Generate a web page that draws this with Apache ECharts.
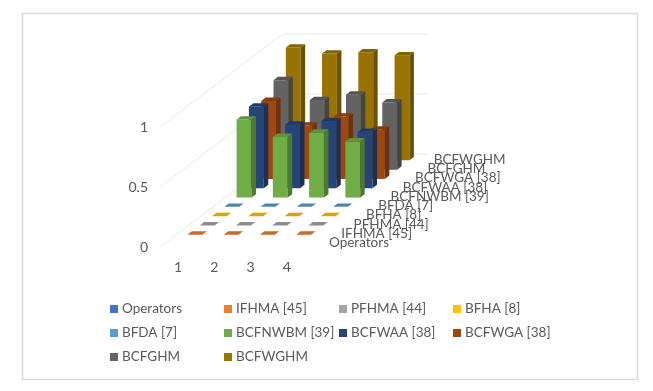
<!DOCTYPE html>
<html>
<head>
<meta charset="utf-8">
<style>
  html, body { margin: 0; padding: 0; background: #fff; }
  #chart { width: 653px; height: 391px; }
</style>
<script src="https://cdn.jsdelivr.net/npm/echarts@6/dist/echarts.min.js"></script>
</head>
<body>
<div id="chart"></div>
<script>
var categories = ['1', '2', '3', '4']
var yTicks = [0, 0.5, 1]

// order is front to back on the depth axis
var seriesNames = ['Operators', 'IFHMA [45]', 'PFHMA [44]', 'BFHA [8]', 'BFDA [7]',
  'BCFNWBM [39]', 'BCFWAA [38]', 'BCFWGA [38]', 'BCFGHM', 'BCFWGHM']
var operators = [null, null, null, null]
var ifhma = [0, 0, 0, 0]
var pfhma = [0, 0, 0, 0]
var bfha = [0, 0, 0, 0]
var bfda = [0, 0, 0, 0]
var bcfnwbm = [0.65, 0.505, 0.54, 0.467]
var bcfwaa = [0.68, 0.53, 0.56, 0.47]
var bcfwga = [0.65, 0.445, 0.52, 0.41]
var bcfghm = [0.745, 0.58, 0.625, 0.56]
var bcfwghm = [0.94, 0.89, 0.9, 0.875]
var seriesValues = [operators, ifhma, pfhma, bfha, bfda, bcfnwbm, bcfwaa, bcfwga, bcfghm, bcfwghm]
var colors = ['#4472C4', '#ED7D31', '#A5A5A5', '#FFC000', '#5B9BD5',
  '#70AD47', '#264478', '#9E480E', '#636363', '#997300']

// oblique projection, one depth slot in pixels
var depthX = 12.3
var depthY = -9.3
var barDepthX = 4.5
var barDepthY = -3.4
var textColor = '#595959'
var fontName = 'Lato'

function shade (hex, k) {
  var n = parseInt(hex.slice(1), 16)
  return 'rgb(' + Math.round((n >> 16) * k) + ',' + Math.round(((n >> 8) & 255) * k) + ',' + Math.round((n & 255) * k) + ')'
}

function poly (points, fill) {
  return { type: 'polygon', shape: { points: points }, style: { fill: fill } }
}

function barRenderer (depth, color) {
  return function (params, api) {
    var v = api.value(1)
    if (v == null || isNaN(v)) {
      return
    }
    var base = api.coord([api.value(0), 0])
    var top = api.coord([api.value(0), v])
    var w = api.size([1, 0])[0] * 0.41
    var x0 = base[0] + depthX * (depth + 0.5) - w / 2 - barDepthX / 2 + 0.5
    var x1 = x0 + w
    var off = depthY * (depth + 0.5) - barDepthY / 2
    var y0 = base[1] + off
    var y1 = top[1] + off
    var children = []
    if (y0 - y1 > 0.5) {
      children.push(poly([[x0, y1], [x1, y1], [x1, y0], [x0, y0]], color))
      children.push(poly([[x1, y1], [x1 + barDepthX, y1 + barDepthY], [x1 + barDepthX, y0 + barDepthY], [x1, y0]], shade(color, 0.7)))
    }
    children.push(poly([[x0, y1], [x1, y1], [x1 + barDepthX, y1 + barDepthY], [x0 + barDepthX, y1 + barDepthY]], shade(color, 0.85)))
    return { type: 'group', children: children }
  }
}

// side wall and back wall lines, one per tick
function wallRenderer (params, api) {
  var halfCat = api.size([1, 0])[0] / 2
  var first = api.coord([0, api.value(0)])
  var last = api.coord([categories.length - 1, api.value(0)])
  var left = [first[0] - halfCat, first[1]]
  var right = [last[0] + halfCat, last[1]]
  var dx = depthX * seriesNames.length
  var dy = depthY * seriesNames.length
  return {
    type: 'polyline',
    shape: { points: [left, [left[0] + dx, left[1] + dy], [right[0] + dx, right[1] + dy]] },
    style: { fill: 'none', stroke: '#e9e9e9', lineWidth: 1 }
  }
}

// depth axis names, they overlap in the original too
function depthLabelRenderer (params, api) {
  var i = params.dataIndex
  var p = api.coord([0, 0])
  var x = p[0] - api.size([1, 0])[0] / 2 + 169 + depthX * i
  if (i === seriesNames.length - 1) {
    x -= 6
  }
  return {
    type: 'text',
    style: {
      x: x,
      y: p[1] - 4 + depthY * i,
      text: seriesNames[i],
      fill: textColor,
      font: '13.5px ' + fontName,
      textAlign: 'left',
      textVerticalAlign: 'middle'
    }
  }
}

var series = [{
  name: 'walls',
  type: 'custom',
  coordinateSystem: 'cartesian2d',
  clip: false,
  silent: true,
  z: 0,
  renderItem: wallRenderer,
  data: yTicks.map(function (t) { return [t] }),
  encode: { y: 0 }
}]
seriesNames.forEach(function (name, depth) {
  series.push({
    name: name,
    type: 'custom',
    coordinateSystem: 'cartesian2d',
    clip: false,
    z: 20 - depth,
    itemStyle: { color: colors[depth] },
    renderItem: barRenderer(depth, colors[depth]),
    encode: { x: 0, y: 1 },
    data: seriesValues[depth].map(function (v, i) { return [i, v] })
  })
})
series.push({
  name: 'depth labels',
  type: 'custom',
  coordinateSystem: 'cartesian2d',
  clip: false,
  silent: true,
  z: 30,
  renderItem: depthLabelRenderer,
  data: seriesNames.map(function (n, i) { return [i] }),
  encode: { y: 0 }
})

function legendColumn (names, left) {
  return {
    orient: 'vertical',
    left: left,
    top: 295,
    itemWidth: 8,
    itemHeight: 8,
    itemGap: 6,
    icon: 'rect',
    selectedMode: false,
    data: names,
    textStyle: { color: textColor, fontFamily: fontName, fontSize: 13.5, padding: [0, 0, 0, -1], lineHeight: 18 }
  }
}

var chart = echarts.init(document.getElementById('chart'))
chart.setOption({
  animation: false,
  backgroundColor: '#fff',
  graphic: [{
    type: 'rect',
    shape: { x: 22.5, y: 13.5, width: 615, height: 366 },
    style: { fill: 'none', stroke: '#d9d9d9', lineWidth: 1.5 },
    z: -1
  }],
  legend: [
    legendColumn([seriesNames[0], seriesNames[4], seriesNames[8]], 105),
    legendColumn([seriesNames[1], seriesNames[5], seriesNames[9]], 219),
    legendColumn([seriesNames[2], seriesNames[6]], 334),
    legendColumn([seriesNames[3], seriesNames[7]], 448)
  ],
  grid: { left: 160, width: 145, top: 127, height: 120 },
  xAxis: {
    type: 'category',
    data: categories,
    axisLine: { show: false },
    axisTick: { show: false },
    splitLine: { show: false },
    axisLabel: { color: textColor, fontFamily: fontName, fontSize: 14, margin: 13 }
  },
  yAxis: {
    type: 'value',
    min: 0,
    max: 1,
    interval: 0.5,
    axisLine: { show: false },
    axisTick: { show: false },
    splitLine: { show: false },
    axisLabel: { color: textColor, fontFamily: fontName, fontSize: 14, margin: 12 }
  },
  series: series
})
</script>
</body>
</html>
